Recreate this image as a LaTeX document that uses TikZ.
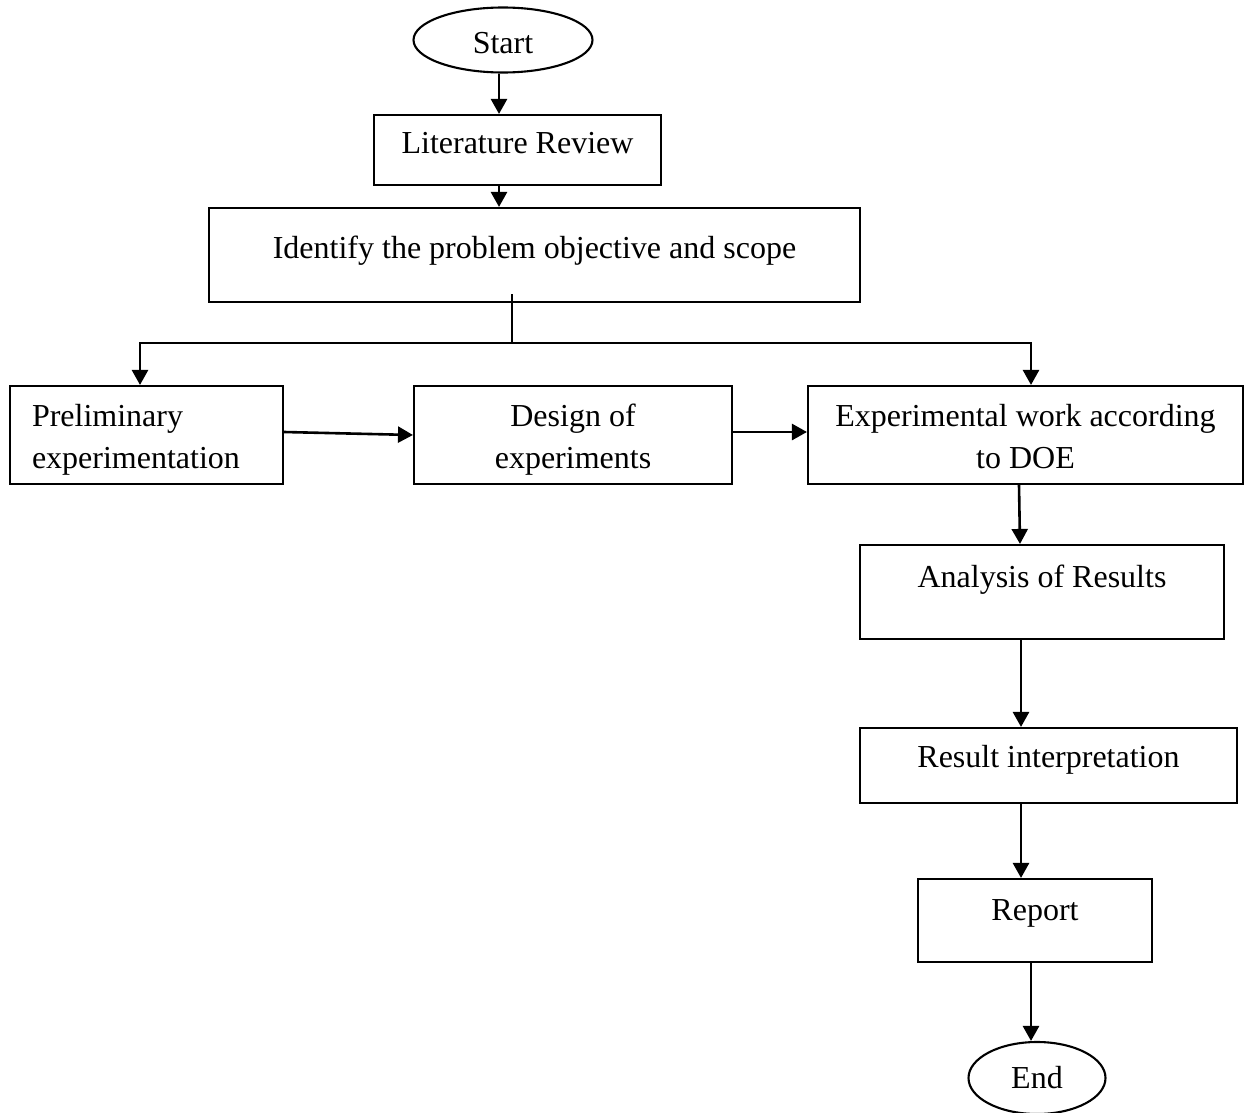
\documentclass[tikz,border=0pt]{standalone}
\usepackage{fontspec}
\setmainfont{Liberation Serif}
\usetikzlibrary{arrows.meta,shapes.geometric}
\begin{document}
\begin{tikzpicture}[x=1pt,y=-1pt,
  font=\fontsize{32}{42}\selectfont,
  box/.style={draw,line width=2.1pt,rectangle,inner sep=0pt,align=center},
  oval/.style={draw,line width=2.1pt,ellipse,inner sep=0pt},
  arr/.style={line width=2.6pt,-{Triangle[length=15pt,width=16pt]}},
  thinline/.style={line width=1.5pt}]
\useasboundingbox (0,0) rectangle (1245,1113);
\node[oval,minimum width=179pt,minimum height=65pt,text height=27.5pt,text depth=0pt] (start) at (503,40) {Start};
\node[box,minimum width=287pt,minimum height=70pt,text height=0.7em,text depth=0pt] (lit) at (517.5,150) {Literature Review};
\node[box,minimum width=651pt,minimum height=94pt,text height=0.7em,text depth=0pt] (ident) at (534.5,255) {Identify the problem objective and scope};
\node[box,minimum width=273pt,minimum height=98pt,align=left,text width=229pt,inner xsep=22pt] (prelim) at (146.5,435) {\rule{0pt}{31pt}Preliminary\\experimentation};
\node[box,minimum width=318pt,minimum height=98pt] (design) at (573,435) {\rule{0pt}{31pt}Design of\\experiments};
\node[box,minimum width=435pt,minimum height=98pt] (exp) at (1025.5,435) {\rule{0pt}{25pt}Experimental work according\\to DOE};
\node[box,minimum width=364pt,minimum height=94pt,text height=0.7em,text depth=16pt] (analysis) at (1042,592) {Analysis of Results};
\node[box,minimum width=377pt,minimum height=75pt,text height=0.7em,text depth=3pt] (result) at (1048.5,765.5) {Result interpretation};
\node[box,minimum width=234pt,minimum height=83pt,text height=0.7em,text depth=7pt] (report) at (1035,920.5) {Report};
\node[oval,minimum width=137pt,minimum height=72pt] (end) at (1037,1078) {End};
\coordinate (split) at (512,343);
\draw[arr] ([xshift=-4pt]start.south) -- ([xshift=-18.5pt]lit.north);
\draw[arr] ([xshift=-18.5pt]lit.south) -- ([xshift=-35.5pt]ident.north);
\draw[thinline] ([xshift=-22.5pt,yshift=9pt]ident.south) -- (split);
\draw[arr] (split) -| ([xshift=-6.5pt]prelim.north);
\draw[arr] (split) -| ([xshift=5.5pt]exp.north);
\draw[arr] ([yshift=3pt]prelim.east) -- (design.west);
\draw[arr] ([yshift=3pt]design.east) -- ([yshift=3pt]exp.west);
\draw[arr] ([xshift=-6.5pt]exp.south) -- ([xshift=-22pt]analysis.north);
\draw[arr] ([xshift=-21pt]analysis.south) -- ([xshift=-27.5pt]result.north);
\draw[arr] ([xshift=-27.5pt]result.south) -- ([xshift=-14pt]report.north);
\draw[arr] ([xshift=-4pt]report.south) -- ([xshift=-6pt]end.north);
\end{tikzpicture}
\end{document}
